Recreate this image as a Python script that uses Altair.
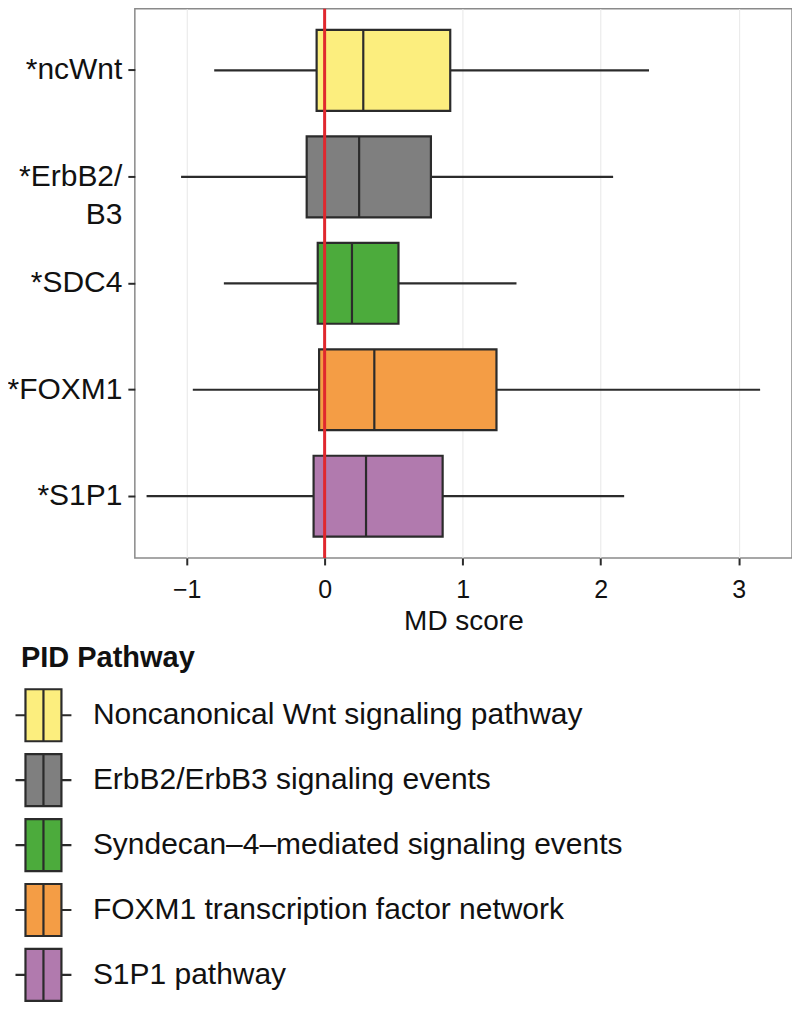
import altair as alt
import pandas as pd

labels = ["*ncWnt", "*ErbB2/\nB3", "*SDC4", "*FOXM1", "*S1P1"]
pathways = [
    "Noncanonical Wnt signaling pathway",
    "ErbB2/ErbB3 signaling events",
    "Syndecan\u20134\u2013mediated signaling events",
    "FOXM1 transcription factor network",
    "S1P1 pathway",
]
colors = ["#FCEE7E", "#7F7F7F", "#4CAB3C", "#F49D45", "#B17AAE"]
whisker_lo = [-0.80, -1.04, -0.73, -0.955, -1.29]
q1 = [-0.058, -0.13, -0.05, -0.04, -0.08]
median = [0.28, 0.25, 0.198, 0.36, 0.30]
q3 = [0.91, 0.77, 0.535, 1.245, 0.855]
whisker_hi = [2.35, 2.09, 1.39, 3.155, 2.17]

df = pd.DataFrame({
    "label": labels, "pathway": pathways, "lo": whisker_lo, "q1": q1,
    "med": median, "q3": q3, "hi": whisker_hi,
})

FONT = "Liberation Sans"
DARK = "#2b2b2b"

xscale = alt.Scale(domain=[-1.375, 3.386], nice=False, zero=False)
yscale = alt.Scale(paddingInner=0.24, paddingOuter=0.2)

xaxis = alt.Axis(values=[-1, 0, 1, 2, 3], format="d", title="MD score",
                 grid=True, gridColor="#EBEBEB", gridWidth=1.2, domain=False,
                 tickColor=DARK, tickWidth=2, tickSize=7,
                 labelFontSize=25, labelPadding=13, labelColor="#111",
                 labelFont=FONT, titleFont=FONT, titleFontSize=28,
                 titleFontWeight="normal", titleColor="#111", titlePadding=5)
yaxis = alt.Axis(title=None, grid=False, domain=False, tickColor=DARK,
                 tickWidth=2, tickSize=7, labelFontSize=30, labelPadding=6,
                 labelColor="#111", labelFont=FONT, labelLineHeight=38,
                 labelExpr="split(datum.label, '\\n')")

y = alt.Y("label:N", sort=labels, scale=yscale, axis=yaxis)

base = alt.Chart(df)

whisk_lo = base.mark_rule(color=DARK, strokeWidth=2.2).encode(
    x=alt.X("lo:Q", scale=xscale, axis=xaxis), x2="q1:Q", y=y)
whisk_hi = base.mark_rule(color=DARK, strokeWidth=2.2).encode(
    x=alt.X("q3:Q", scale=xscale), x2="hi:Q", y=y)

box_path = ("M-0.893,-0.93L0.393,-0.93L0.393,0.93L-0.893,0.93Z"
            "M-0.25,-0.93L-0.25,0.93"
            "M-1.25,0L-0.893,0M0.393,0L0.75,0")

boxes = base.mark_bar(stroke=DARK, strokeWidth=2.2).encode(
    x=alt.X("q1:Q", scale=xscale), x2="q3:Q", y=y,
    fill=alt.Fill("pathway:N", sort=pathways,
                  scale=alt.Scale(domain=pathways, range=colors),
                  legend=alt.Legend(
                      title="PID Pathway", orient="none",
                      legendX=-114, legendY=636, padding=0,
                      titleFont=FONT, titleFontSize=29, titleFontWeight="bold",
                      titleColor="#111", titlePadding=13,
                      labelFont=FONT, labelFontSize=30, labelColor="#111",
                      labelOffset=13, labelLimit=800,
                      symbolType=box_path, symbolSize=3136,
                      symbolStrokeColor=DARK, symbolStrokeWidth=2.2,
                      symbolOpacity=1, rowPadding=4)),
)

medians = base.mark_tick(color=DARK, thickness=2.2, size=81, opacity=1).encode(
    x=alt.X("med:Q", scale=xscale), y=y)

zero_line = alt.Chart(pd.DataFrame({"z": [0]})).mark_rule(
    color="#E0282E", strokeWidth=3).encode(x=alt.X("z:Q", scale=xscale))

chart = alt.layer(whisk_lo, whisk_hi, boxes, medians, zero_line).properties(
    width=658, height=550,
    autosize=alt.AutoSizeParams(type="none"),
    padding={"left": 127, "top": 0, "right": 0, "bottom": 447},
).configure_view(stroke="#8a8a8a", strokeWidth=1.5)

chart.save("out.html", embed_options={"renderer": "svg", "actions": False})
